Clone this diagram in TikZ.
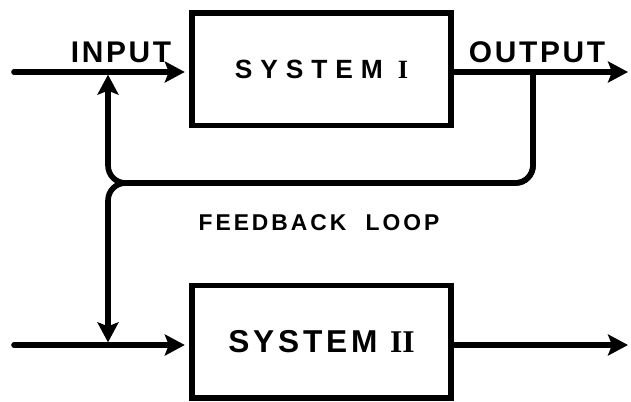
\documentclass[tikz,border=0pt]{standalone}
\usepackage{fontspec}
\setmainfont{Liberation Sans}
\newfontfamily\widefont{Liberation Sans}[LetterSpace=30]
\newfontfamily\sysfont{Liberation Sans}[LetterSpace=12]
\newfontfamily\lblfont{Liberation Sans}[LetterSpace=9]
\newfontfamily\fbfont{Liberation Sans}[LetterSpace=13]
\newfontfamily\romfont{Liberation Serif}
\usetikzlibrary{calc,arrows.meta}

\tikzset{
    blk/.style={draw, line width=3.2pt, minimum width=5.18cm, minimum height=2.25cm, inner sep=0pt},
    flow/.style={line width=3.2pt, line cap=round, -{Stealth[length=0.4cm,width=0.42cm,inset=0.08cm]}},
    lbl/.style={anchor=base, inner sep=0pt, font=\lblfont\bfseries\fontsize{17}{20}\selectfont},
}

\begin{document}
\begin{tikzpicture}[]
        \useasboundingbox (0,0) rectangle (12.62,8.02);
        % 两个系统方框
        \node [blk, font=\widefont\bfseries\fontsize{15}{18}\selectfont] (sys1) at (6.43,6.635) {\raisebox{-2pt}{SYSTEM {\romfont I}}};
        \node [blk, font=\sysfont\bfseries\fontsize{18}{21}\selectfont] (sys2) at (6.43,1.185) {SYSTEM {\romfont II}};
        % 输入输出端点
        \coordinate (in1) at (0.28,6.58);
        \coordinate (out1) at (12.56,6.58);
        \coordinate (in2) at (0.28,1.12);
        \coordinate (out2) at (12.56,1.12);
        % 反馈回路的分支点
        \coordinate (tap) at (10.66,6.58);
        \coordinate (join) at (2.16,4.36);
        \coordinate (fb1) at (2.16,6.58);
        \coordinate (fb2) at (2.16,1.12);

        % 输入输出箭头
        \draw [flow, shorten >=2.5pt] (in1) -- (in1 -| sys1.west);
        \draw [flow] (out1 -| sys1.east) -- (out1);
        \draw [flow, shorten >=2.5pt] (in2) -- (in2 -| sys2.west);
        \draw [flow] (out2 -| sys2.east) -- (out2);
        % 反馈回路: 向上到输入, 向下到系统II
        \draw [flow, rounded corners=0.35cm, shorten >=1.5pt] (tap) |- (join) -- (fb1);
        \draw [flow, rounded corners=0.35cm, shorten >=1.5pt] (tap) |- (join) -- (fb2);

        % 文字标注
        \node [lbl] (inlbl) at (2.42,6.76) {INPUT};
        \node [lbl] (outlbl) at (10.74,6.76) {OUTPUT};
        \node [anchor=base, inner sep=0pt, font=\fbfont\bfseries\fontsize{13}{16}\selectfont] (fblbl) at (6.38,3.42) {FEEDBACK\hspace{0.2cm} LOOP};
    \end{tikzpicture}
\end{document}
